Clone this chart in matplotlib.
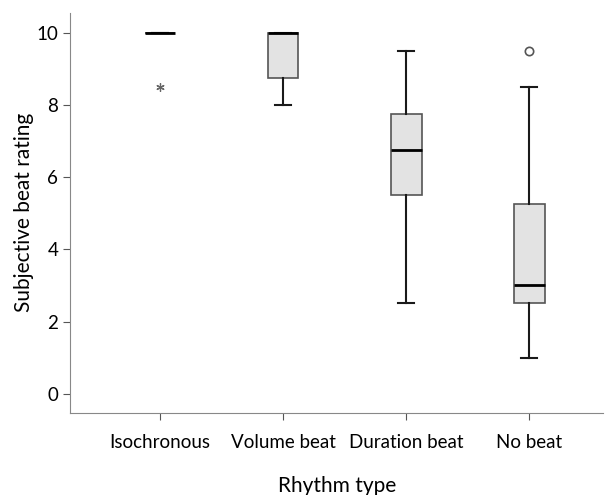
import matplotlib.pyplot as plt

plt.rcParams['font.family'] = ['Lato', 'DejaVu Sans']

# Daten
kategorien = ["Isochronous", "Volume beat", "Duration beat", "No beat"]
median = [10, 10, 6.75, 3]
q1 = [10, 8.75, 5.5, 2.5]
q3 = [10, 10, 7.75, 5.25]
whisk_lo = [10, 8, 2.5, 1]
whisk_hi = [10, 10, 9.5, 8.5]
ausreisser = [[8.5], [], [], [9.5]]
extrem = [True, False, False, False]   # * = Extremwert, o = Ausreisser

stats = []
for i in range(len(kategorien)):
    stats.append(dict(med=median[i], q1=q1[i], q3=q3[i],
                      whislo=whisk_lo[i], whishi=whisk_hi[i], fliers=[]))

fig = plt.figure(figsize=(6.06, 4.95), dpi=100)
ax = fig.add_axes([0.1155, 0.166, 0.88, 0.808])

pos = [1, 2, 3, 4]
ax.bxp(stats, positions=pos, widths=0.25, patch_artist=True, showfliers=False,
       boxprops=dict(facecolor="#e3e3e3", edgecolor="#555555", linewidth=1.2),
       medianprops=dict(color="black", linewidth=2),
       whiskerprops=dict(color="#1a1a1a", linewidth=1.5),
       capprops=dict(color="#1a1a1a", linewidth=1.5), capwidths=0.13)

for i, werte in enumerate(ausreisser):
    for w in werte:
        if extrem[i]:
            ax.plot(pos[i], w, marker=(6, 2, 0), color="#666666", markersize=6,
                    markeredgewidth=0.9)
        else:
            ax.plot(pos[i], w, marker="o", color="#555555", markersize=6,
                    markerfacecolor="none", markeredgewidth=1.2)

ax.set_xlim(0.27, 4.6)
ax.set_ylim(-0.53, 10.55)
ax.set_yticks([0, 2, 4, 6, 8, 10])
ax.set_xticks(pos)
ax.set_xticklabels(kategorien)
ax.tick_params(labelsize=13.5, color="#555555", length=5)
ax.tick_params(axis="x", pad=10)
ax.spines["top"].set_visible(False)
ax.spines["right"].set_visible(False)
ax.spines["left"].set_color("#888888")
ax.spines["bottom"].set_color("#888888")

ax.set_xlabel("Rhythm type", fontsize=15, labelpad=18)
ax.set_ylabel("Subjective beat rating", fontsize=15, labelpad=2)

plt.savefig("out.png", dpi=100)
